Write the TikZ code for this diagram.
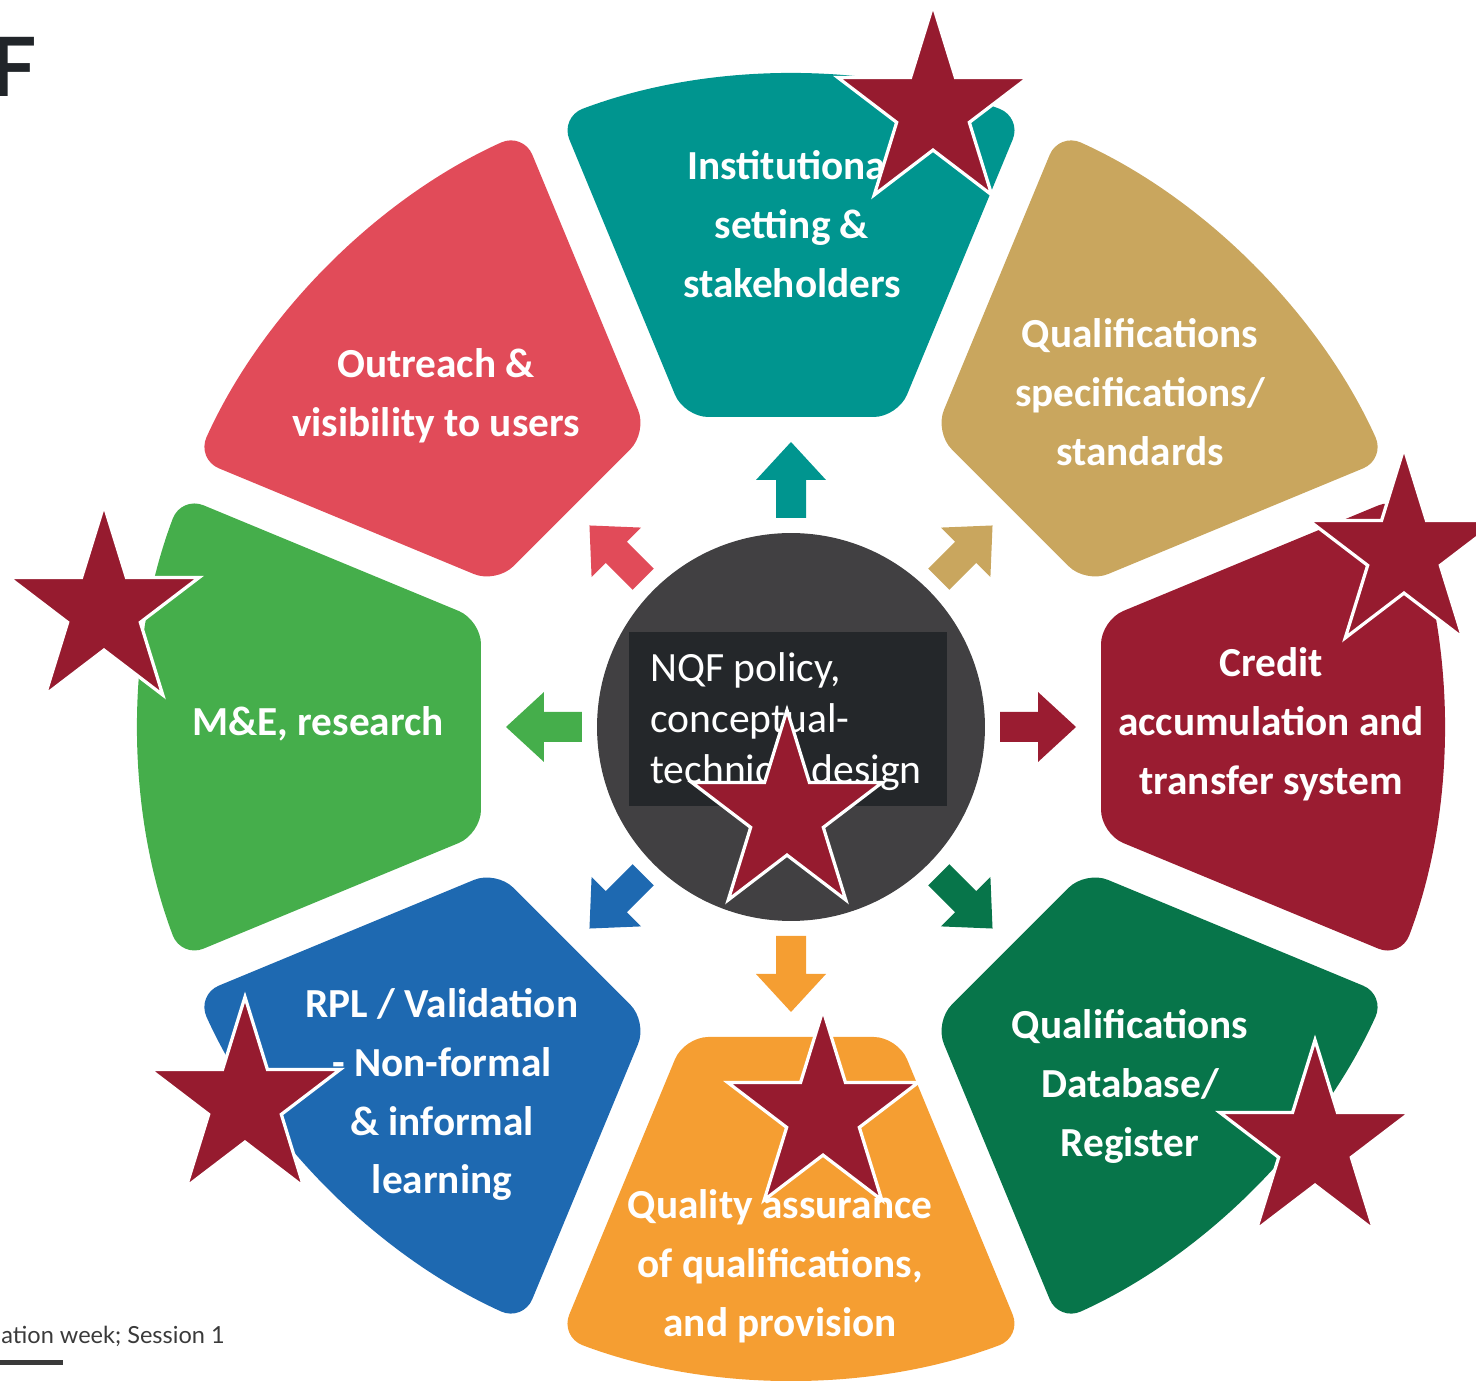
\documentclass[tikz,border=0pt]{standalone}
\usepackage{fontspec}
\setmainfont{Carlito}
\newfontfamily\footfont{Lato}
\newfontfamily\titlefont{Lato}

\definecolor{segTeal}{HTML}{00958F}
\definecolor{segGold}{HTML}{C9A65E}
\definecolor{segMaroon}{HTML}{9A1C31}
\definecolor{segDkGreen}{HTML}{07754A}
\definecolor{segOrange}{HTML}{F59E32}
\definecolor{segBlue}{HTML}{1E69B1}
\definecolor{segGreen}{HTML}{45AE4B}
\definecolor{segRed}{HTML}{E14B59}
\definecolor{hubGrey}{HTML}{414042}
\definecolor{panelInk}{HTML}{24272A}
\definecolor{starRed}{HTML}{961B2F}
\definecolor{footInk}{HTML}{3A3A3A}
\definecolor{titleInk}{HTML}{212529}

\begin{document}
% one unit = one pixel; origin at the centre of the wheel
\begin{tikzpicture}[x=0.02cm, y=0.02cm,
  wedge/.style={rounded corners=0.48cm},
  seglabel/.style={text=white, align=center, inner sep=0pt,
    font=\bfseries\fontsize{23.5}{33.45}\selectfont,
    execute at begin node=\strut, execute at end node=\strut},
  hubtext/.style={text=white, anchor=base west, inner sep=0pt,
    font=\fontsize{23.7}{28.9}\selectfont},
  starpaint/.style={fill=starRed, draw=white, line width=0.065cm, line join=miter},
  bigstar/.pic={
    \path[starpaint] (90:100 and 105) -- (126:38.2 and 40.1)
      -- (162:100 and 105) -- (198:38.2 and 40.1)
      -- (234:100 and 105) -- (270:38.2 and 40.1)
      -- (306:100 and 105) -- (342:38.2 and 40.1)
      -- (18:100 and 105) -- (54:38.2 and 40.1) -- cycle;
  },
]
\useasboundingbox (-791,-654) rectangle (685,727);
\clip (-791,-654) rectangle (685,727);

% eight wheel segments, each with its outward block arrow
\foreach \ang/\col in {90/segTeal, 45/segGold, 0/segMaroon, -45/segDkGreen,
                       -90/segOrange, -135/segBlue, 180/segGreen, 135/segRed} {
  \begin{scope}[rotate=\ang-90]
    \fill[\col, wedge] (-106.8,310) -- (106.8,310) -- (230.9,609.7)
      arc[start angle=69.26, end angle=110.74, radius=652] -- cycle;
    \fill[\col] (-15,209) -- (-15,247) -- (-35,247) -- (0,285)
      -- (35,247) -- (15,247) -- (15,209) -- cycle;
  \end{scope}
}

% hub
\node[circle, fill=hubGrey, minimum size=7.76cm, inner sep=0pt] (hub) at (0,0) {};
\node[fill=panelInk, minimum width=6.36cm, minimum height=3.48cm, inner sep=0pt] (panel) at (-3,8) {};
\node[hubtext] (hubA) at (-141,45) {NQF policy,};
\node[hubtext] (hubB) at (-141,-6) {conceptual-};
\node[hubtext] (hubC) at (-141,-57) {technical design};

% segment labels
\node[seglabel] (institutional) at (1,494) {Institutional\\setting \&\\stakeholders};
\node[seglabel] (specs) at (349,326) {Qualifications\\specifications/\\standards};
\node[seglabel] (credit) at (480,-3) {Credit\\accumulation and\\transfer system};
\node[seglabel] (register) at (339,-365) {Qualifications\\Database/\\Register};
\node[seglabel] (quality) at (-11,-545) {Quality assurance\\of qualifications,\\and provision};
\node[seglabel] (rpl) at (-349,-373) {RPL / Validation\\- Non-formal\\\& informal\\learning};
\node[seglabel] (research) at (-473,3) {M\&E, research};
\node[seglabel] (outreach) at (-355,326) {Outreach \&\\visibility to users};

% star markers
\pic (starA) at (142,617) {bigstar};
\pic (starB) at (613,174) {bigstar};
\pic (starC) at (-687,117) {bigstar};
\pic (starD) at (-4,-88) {bigstar};
\pic (starE) at (-546,-375) {bigstar};
\pic (starF) at (32,-388) {bigstar};
\pic (starG) at (524,-418) {bigstar};

% slide furniture
\node[anchor=base west, inner sep=0pt, text=titleInk,
      font=\titlefont\bfseries\fontsize{46.6}{50}\selectfont] (title) at (-801,630) {F};
\node[anchor=base east, inner sep=0pt, text=footInk,
      font=\footfont\fontsize{13.4}{16}\selectfont] (footer) at (-566,-616) {ation week; Session 1};
\fill[footInk] (-791,-633) rectangle (-728,-637.5);
\end{tikzpicture}
\end{document}
